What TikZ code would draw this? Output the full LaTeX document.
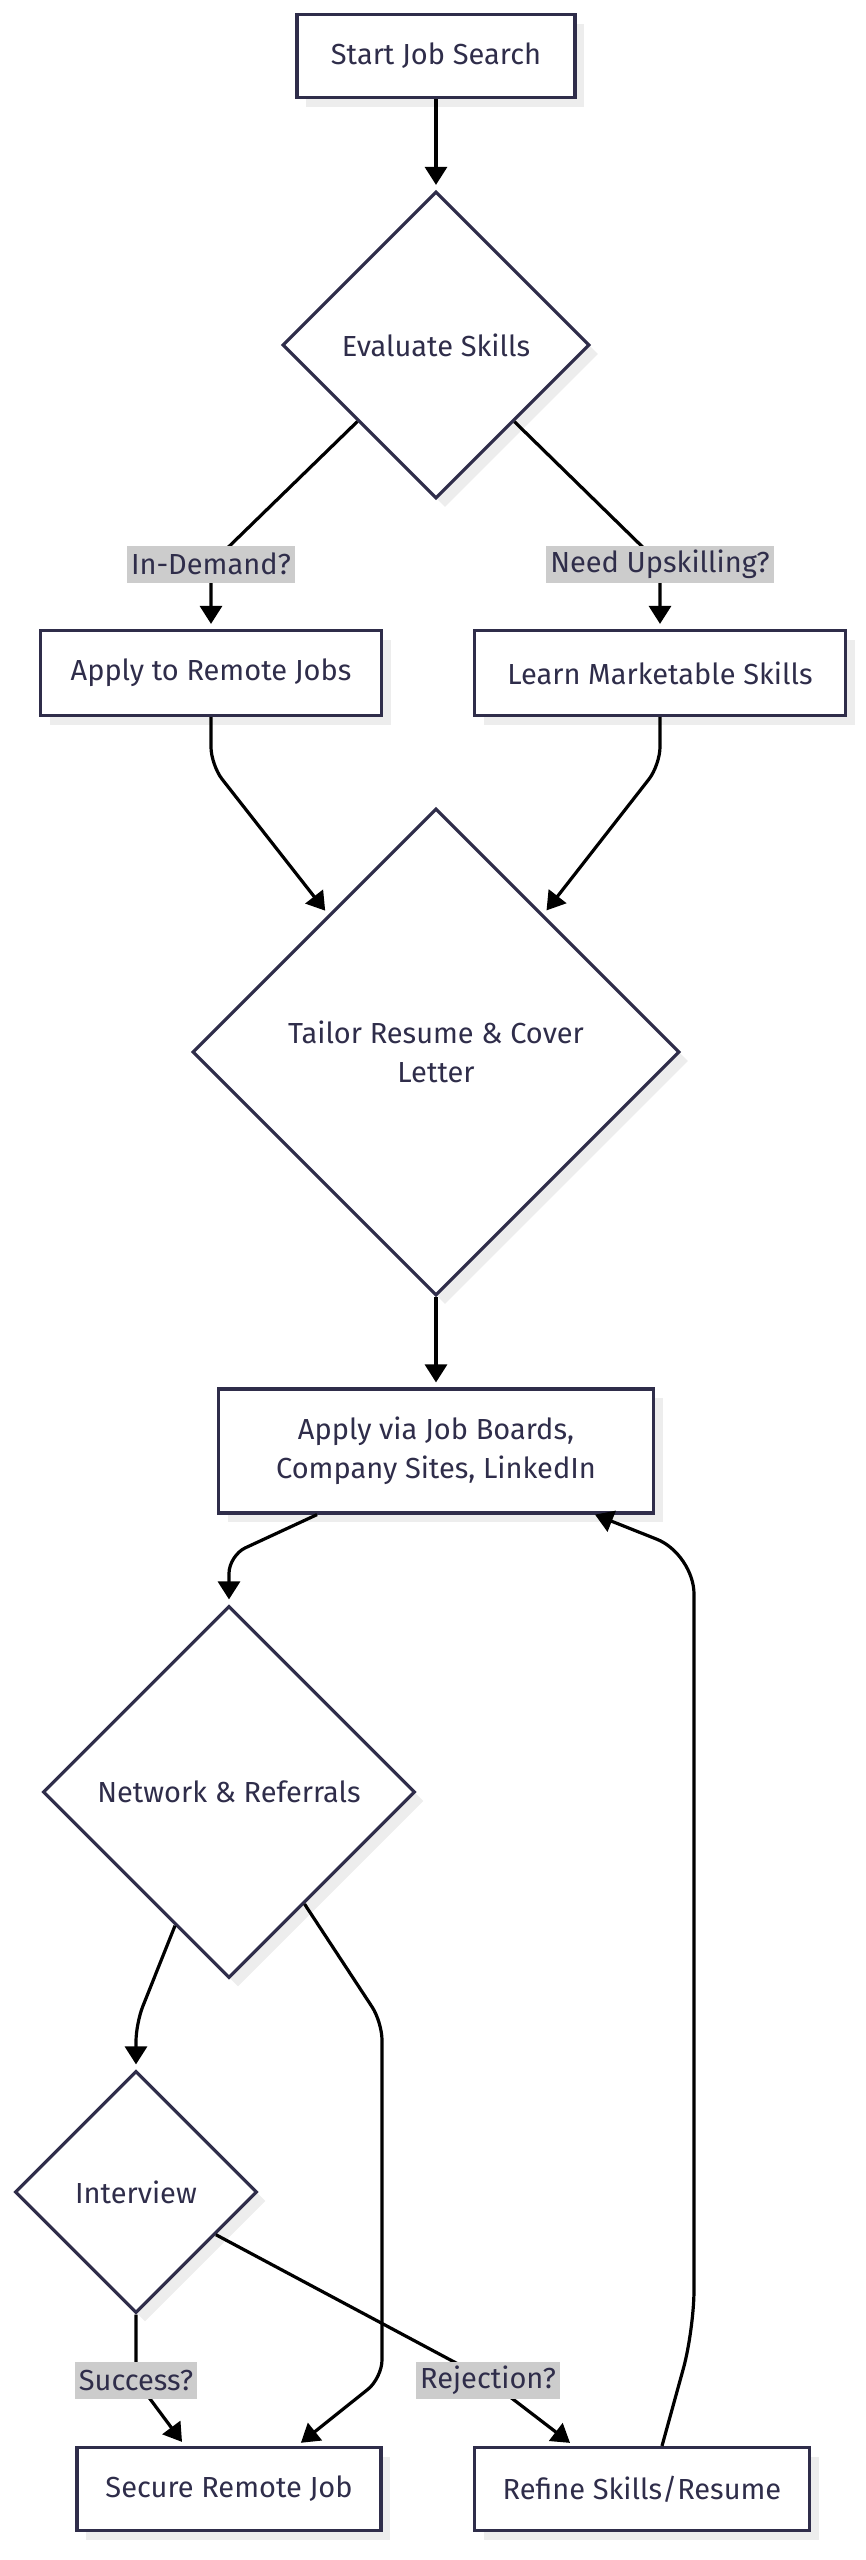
\documentclass[tikz,border=0pt]{standalone}
\usepackage{fontspec}
\setmainfont{Fira Sans}
\usepackage{xcolor}
\usetikzlibrary{arrows.meta,shapes.geometric,shadows}
\definecolor{frame}{HTML}{2F2D4A}
\definecolor{condbg}{HTML}{CCCCCC}
\definecolor{shade}{HTML}{EDEDED}

\begin{document}
\begin{tikzpicture}[
  x=1pt,y=-1pt,
  every node/.style={font=\fontsize{29}{39}\selectfont,align=center,text=frame},
  base/.style={draw=frame,line width=3.2pt,fill=white,drop shadow={shadow xshift=9pt,shadow yshift=-9pt,fill=shade,opacity=1}},
  stepbox/.style={base,rectangle,minimum height=83pt},
  choice/.style={base,diamond,aspect=1,inner sep=0pt},
  cond/.style={fill=condbg,sharp corners,inner xsep=4pt,inner ysep=0pt,minimum height=37pt},
  arrow/.style={-{Triangle[length=18pt,width=22pt]},line width=3.2pt,draw=black,rounded corners=18pt,shorten >=5pt}
]
\useasboundingbox (0,0) rectangle (866,2560);

\node[stepbox,minimum width=278pt] (start) at (436,56) {Start Job Search};
\node[choice,minimum size=307pt] (evaluate) at (436,345) {Evaluate Skills};
\node[stepbox,minimum width=341pt,minimum height=85pt] (remote) at (211,673) {Apply to Remote Jobs};
\node[stepbox,minimum width=371pt,minimum height=85pt] (learn) at (660,673) {Learn Marketable Skills};
\node[choice,minimum size=487pt] (tailor) at (436,1052) {Tailor Resume \& Cover\\Letter};
\node[stepbox,minimum width=435pt,minimum height=124pt] (boards) at (436,1451) {Apply via Job Boards,\\Company Sites, LinkedIn};
\node[choice,minimum size=372pt] (network) at (229,1792) {Network \& Referrals};
\node[choice,minimum size=242pt] (interview) at (136,2192) {Interview};
\node[stepbox,minimum width=304pt] (secure) at (229,2489) {Secure Remote Job};
\node[stepbox,minimum width=335pt] (refine) at (642,2489) {Refine Skills/Resume};

\coordinate (demand) at (211,564);
\coordinate (upskill) at (660,564);
\coordinate (success) at (136,2380);
\coordinate (rejection) at (488,2380);

\draw[arrow] (start) -- (evaluate);
\draw[arrow] (evaluate) -- (demand) node[cond] {In-Demand?} -- (remote);
\draw[arrow] (evaluate) -- (upskill) node[cond] {Need Upskilling?} -- (learn);
\draw[arrow] (remote) -- ++(0,92) -- (tailor);
\draw[arrow] (learn) -- ++(0,92) -- (tailor);
\draw[arrow] (tailor) -- (boards);
\draw[arrow] ([xshift=-119pt]boards.south) -- ([yshift=49pt]network.north) -- (network.north);
\draw[arrow] (network.-112) -- ([yshift=46pt]interview.north) -- (interview.north);
\draw[arrow] (network.-56) -- (382,2022) -- (382,2378) -- ([xshift=68pt]secure.north);
\draw[arrow] (interview) -- (success) node[cond] {Success?} -- ([xshift=-44pt]secure.north);
\draw[arrow] (interview) -- (rejection) node[cond] {Rejection?} -- ([xshift=-68pt]refine.north);
\draw[arrow,rounded corners=40pt,shorten >=0pt] ([xshift=20pt]refine.north) -- (694,2330) -- (694,1554) -- ([xshift=159pt]boards.south);
\end{tikzpicture}
\end{document}
